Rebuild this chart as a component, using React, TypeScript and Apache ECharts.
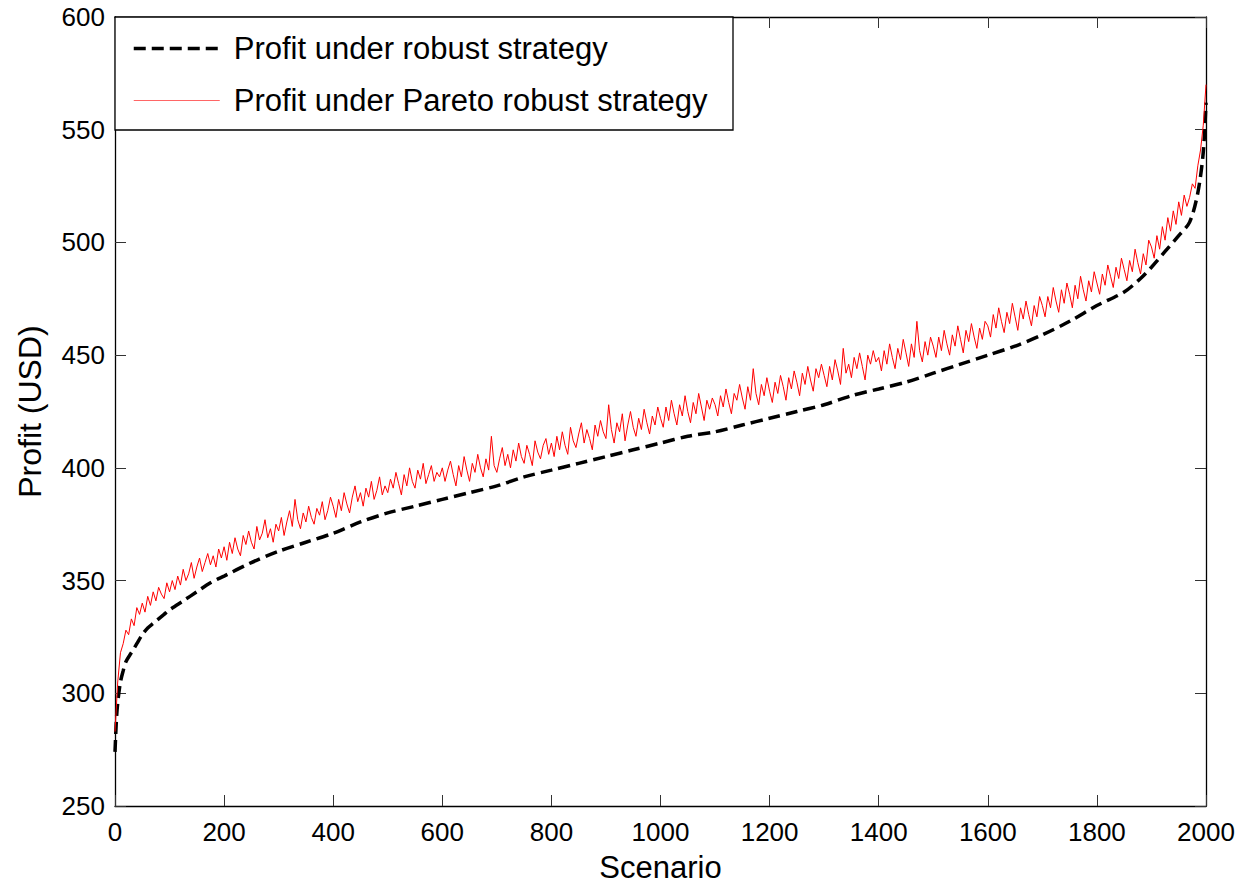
import React, { useEffect, useRef } from "react";
import * as echarts from "echarts";

const FONT = "'Liberation Sans', Arial, Helvetica, sans-serif";

const xTickValues = [0, 200, 400, 600, 800, 1000, 1200, 1400, 1600, 1800, 2000];
const yTickValues = [250, 300, 350, 400, 450, 500, 550, 600];

const seriesNames = ["Profit under robust strategy", "Profit under Pareto robust strategy"];

// Robust strategy (smooth, dashed black), read at these scenarios
const robustScenario = [0, 3, 6, 10, 15, 20, 30, 40, 50, 60, 70, 80, 90, 100, 125, 150, 175, 200, 250, 300, 350, 400, 450, 500, 550, 600, 650, 700, 750, 800, 850, 900, 950, 1000, 1050, 1100, 1150, 1200, 1250, 1300, 1350, 1400, 1450, 1500, 1550, 1600, 1650, 1700, 1750, 1800, 1850, 1880, 1900, 1925, 1950, 1970, 1985, 1995, 2000];
const robustProfit = [274, 290, 298, 305, 310, 314, 318, 322, 326, 329, 331, 333, 335, 337, 341, 345, 349, 352, 358, 363, 367, 371, 376, 380, 383, 386, 389, 392, 396, 399, 402, 405, 408, 411, 414, 416, 419, 422, 425, 428, 432, 435, 438, 442, 446, 450, 454, 459, 465, 472, 478, 484, 489, 496, 503, 509, 522, 540, 562];

// Pareto robust strategy (noisy red), read every 5 scenarios from 0 to 2000
const paretoStep = 5;
const paretoProfit = [
  283, 305, 318, 322, 328, 326, 333, 330, 338, 335, 340, 336, 343, 339, 345, 341, 347, 344, 342, 349,
  345, 350, 346, 352, 348, 355, 350, 353, 358, 351, 356, 360, 354, 358, 362, 357, 361, 356, 364, 360,
  365, 359, 367, 362, 369, 364, 361, 370, 366, 372, 367, 364, 374, 368, 371, 377, 369, 373, 367, 375,
  372, 378, 370, 376, 381, 374, 386, 377, 373, 380, 376, 383, 378, 375, 382, 379, 385, 377, 381, 387,
  383, 378, 386, 381, 389, 384, 380, 387, 392, 385, 389, 383, 391, 387, 394, 386, 390, 396, 388, 392,
  389, 395, 391, 398, 393, 388, 397, 392, 400, 394, 391, 399, 395, 402, 393, 397, 401, 394, 398, 396,
  400, 394, 399, 403, 397, 392, 401, 396, 405, 399, 394, 402, 398, 406, 400, 396, 404, 399, 414, 401,
  398, 404, 409, 401, 406, 400, 408, 403, 411, 405, 402, 410, 406, 401, 412, 407, 404, 410, 413, 406,
  411, 405, 414, 408, 416, 410, 406, 418, 412, 409, 415, 420, 411, 417, 413, 408, 419, 414, 421, 416,
  413, 428, 417, 411, 420, 416, 424, 412, 419, 425, 418, 414, 422, 417, 426, 420, 415, 423, 419, 427,
  422, 418, 427, 421, 430, 424, 419, 428, 423, 432, 425, 420, 429, 424, 433, 427, 421, 430, 426, 431,
  428, 423, 432, 427, 435, 429, 424, 433, 430, 437, 431, 426, 436, 430, 444, 433, 428, 437, 432, 440,
  434, 429, 438, 433, 441, 436, 430, 440, 435, 443, 438, 432, 442, 437, 445, 439, 434, 444, 440, 446,
  441, 436, 445, 439, 448, 443, 437, 453, 442, 446, 440, 449, 444, 451, 445, 439, 450, 446, 452, 447,
  449, 443, 452, 446, 455, 449, 444, 453, 448, 457, 451, 445, 455, 449, 465, 452, 447, 456, 450, 458,
  454, 449, 458, 452, 461, 455, 450, 459, 454, 463, 457, 451, 461, 456, 464, 458, 453, 462, 457, 465,
  463, 458, 468, 462, 471, 465, 460, 469, 464, 473, 467, 461, 471, 466, 474, 468, 463, 472, 467, 476,
  472, 467, 476, 471, 480, 474, 469, 479, 473, 482, 477, 471, 481, 475, 485, 479, 474, 483, 478, 487,
  482, 477, 486, 481, 490, 485, 480, 489, 484, 493, 488, 483, 492, 487, 497, 491, 486, 495, 490, 501,
  498, 493, 503, 497, 507, 501, 511, 505, 514, 508, 518, 512, 521, 516, 520, 526, 524, 534, 541, 552,
  570,
];

export default function App() {
  const ref = useRef<HTMLDivElement>(null);

  useEffect(() => {
    if (!ref.current) return;
    const chart = echarts.init(ref.current, undefined, { renderer: "svg" });

    const robustData = robustScenario.map((s, i) => [s, robustProfit[i]]);
    const paretoData = paretoProfit.map((v, i) => [i * paretoStep, v]);

    const xMin = xTickValues[0];
    const xMax = xTickValues[xTickValues.length - 1];
    const xInt = xTickValues[1] - xTickValues[0];
    const yMin = yTickValues[0];
    const yMax = yTickValues[yTickValues.length - 1];
    const yInt = yTickValues[1] - yTickValues[0];

    const tick = { show: true, inside: true, length: 11, lineStyle: { color: "#333", width: 1 } };
    const line = { show: true, onZero: false, lineStyle: { color: "#000", width: 1.3 } };
    const plain = (v: number) => String(v);

    chart.setOption({
      animation: false,
      backgroundColor: "#fff",
      grid: { left: 115, top: 17, right: 33, bottom: 80, containLabel: false, outerBoundsMode: "none" },
      xAxis: [
        {
          type: "value",
          min: xMin,
          max: xMax,
          interval: xInt,
          position: "bottom",
          name: "Scenario",
          nameLocation: "middle",
          nameGap: 46,
          nameTextStyle: { fontSize: 31, color: "#000", fontFamily: FONT },
          axisLine: line,
          axisTick: tick,
          axisLabel: { fontSize: 26, color: "#000", fontFamily: FONT, margin: 13, formatter: plain },
          splitLine: { show: false },
        },
        {
          type: "value",
          min: xMin,
          max: xMax,
          interval: xInt,
          position: "top",
          axisLine: line,
          axisTick: tick,
          axisLabel: { show: false },
          splitLine: { show: false },
        },
      ],
      yAxis: [
        {
          type: "value",
          min: yMin,
          max: yMax,
          interval: yInt,
          position: "left",
          name: "Profit (USD)",
          nameLocation: "middle",
          nameGap: 69,
          nameTextStyle: { fontSize: 32, color: "#000", fontFamily: FONT },
          axisLine: line,
          axisTick: tick,
          axisLabel: { fontSize: 26, color: "#000", fontFamily: FONT, margin: 10, formatter: plain },
          splitLine: { show: false },
        },
        {
          type: "value",
          min: yMin,
          max: yMax,
          interval: yInt,
          position: "right",
          axisLine: line,
          axisTick: tick,
          axisLabel: { show: false },
          splitLine: { show: false },
        },
      ],
      legend: {
        show: true,
        orient: "vertical",
        left: 132,
        top: 33,
        padding: 0,
        itemGap: 21,
        itemWidth: 86,
        itemHeight: 14,
        z: 100,
        itemStyle: { opacity: 0 },
        data: [
          { name: seriesNames[0], itemStyle: { opacity: 0 }, lineStyle: { width: 3.5, type: [12, 6], color: "#000" } },
          { name: seriesNames[1], itemStyle: { opacity: 0 }, lineStyle: { width: 1.2, color: "#ff6666" } },
        ],
        textStyle: { fontSize: 31, color: "#000", fontFamily: FONT, padding: [0, 0, 0, 9] },
      },
      graphic: [
        {
          type: "rect",
          z: 50,
          shape: { x: 115, y: 17, width: 618, height: 113 },
          style: { fill: "#fff", stroke: "#000", lineWidth: 1.3 },
          silent: true,
        },
      ],
      series: [
        {
          name: seriesNames[0],
          type: "line",
          data: robustData,
          xAxisIndex: 0,
          yAxisIndex: 0,
          symbol: "none",
          smooth: 0.3,
          lineStyle: { color: "#000", width: 3.5, type: [12, 6] },
          itemStyle: { color: "#000" },
          z: 2,
        },
        {
          name: seriesNames[1],
          type: "line",
          data: paretoData,
          xAxisIndex: 0,
          yAxisIndex: 0,
          symbol: "none",
          lineStyle: { color: "#ff0000", width: 1 },
          itemStyle: { color: "#ff0000" },
          z: 3,
        },
      ],
    });

    return () => chart.dispose();
  }, []);

  return (
    <div
      ref={ref}
      style={{ position: "fixed", left: 0, top: 0, width: 1239, height: 886, background: "#fff" }}
    />
  );
}
